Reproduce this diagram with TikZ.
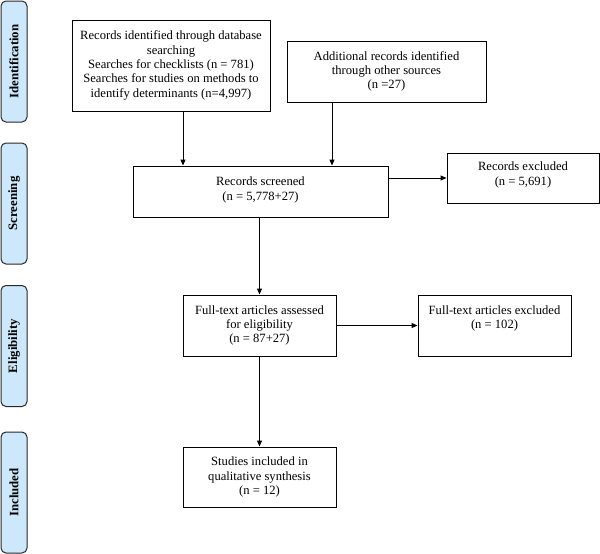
\documentclass[tikz,border=0pt]{standalone}
\usepackage{fontspec}
\setmainfont{Liberation Serif}
\usetikzlibrary{arrows.meta}
\definecolor{sidefill}{RGB}{204,232,250}
\definecolor{sidedraw}{RGB}{40,40,40}
\tikzset{
  box/.style={draw, line width=0.9pt, rectangle, align=center, inner sep=2pt,
    font=\fontsize{12.6}{14.3}\selectfont},
  side/.style={draw=sidedraw, fill=sidefill, line width=1pt, rounded corners=5pt,
    rectangle, minimum width=121pt, minimum height=26pt, rotate=90,
    font=\bfseries\fontsize{12.8}{14}\selectfont},
  arr/.style={line width=0.9pt, -{Triangle[length=6pt,width=5pt]}}
}
\begin{document}
\begin{tikzpicture}[x=1pt,y=-1pt]
\useasboundingbox (0,0) rectangle (600,554);
% side labels
\node[side] (sid) at (14,61.5) {Identification};
\node[side] (sscr) at (14,203.5) {Screening};
\node[side] (sel) at (14,346) {Eligibility};
\node[side] (sinc) at (14,492.5) {Included};
% boxes
\node[box, minimum width=198pt, minimum height=91pt] (b1) at (171,65.5)
  {Records identified through database\\searching\\Searches for checklists (n = 781)\\Searches for studies on methods to\\identify determinants (n=4,997)};
\node[box, minimum width=199pt, minimum height=61pt] (b2) at (386.5,71.5)
  {Additional records identified\\through other sources\\(n =27)};
\node[box, minimum width=255pt, minimum height=51pt] (scr) at (260.5,191.5)
  {Records screened\\(n = 5,778+27)\rule[-6pt]{0pt}{6pt}};
\node[box, minimum width=152pt, minimum height=50pt] (exc) at (523,178)
  {Records excluded\\(n = 5,691)\rule[-9pt]{0pt}{9pt}};
\node[box, minimum width=153pt, minimum height=61pt] (ass) at (259.5,325.5)
  {Full-text articles assessed\\for eligibility\\(n = 87+27)};
\node[box, minimum width=153pt, minimum height=61pt] (ftx) at (494.5,325.5)
  {Full-text articles excluded\\(n = 102)\rule[-17pt]{0pt}{17pt}};
\node[box, minimum width=153pt, minimum height=60pt] (inc) at (259.5,477)
  {Studies included in\\qualitative synthesis\\(n = 12)};
% arrows
\draw[arr] ([xshift=12pt]b1.south) -- ([xshift=12pt]b1.south |- scr.north);
\draw[arr] ([xshift=-54.5pt]b2.south) -- ([xshift=-54.5pt]b2.south |- scr.north);
\draw[arr] (scr.east |- exc.west) -- (exc.west);
\draw[arr] (scr.south -| ass.north) -- (ass.north);
\draw[arr] (ass.east) -- (ftx.west);
\draw[arr] (ass.south) -- (inc.north);
\end{tikzpicture}
\end{document}
